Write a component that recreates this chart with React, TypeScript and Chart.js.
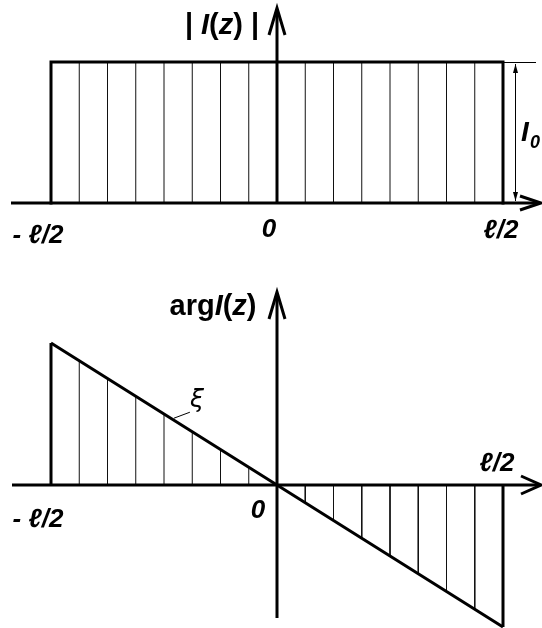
import { useEffect, useRef } from "react";
import { Chart, registerables } from "chart.js";

Chart.register(...registerables);

// z along the antenna, in sixteenths of ℓ (from -ℓ/2 to +ℓ/2)
const zPositions = [-8, -7, -6, -5, -4, -3, -2, -1, 0, 1, 2, 3, 4, 5, 6, 7, 8];
// |I(z)| in units of I0 (uniform amplitude)
const magnitude = [1, 1, 1, 1, 1, 1, 1, 1, 1, 1, 1, 1, 1, 1, 1, 1, 1];
// arg I(z), linear phase (arbitrary units)
const phase = [8, 7, 6, 5, 4, 3, 2, 1, 0, -1, -2, -3, -4, -5, -6, -7, -8];
// tick labels at -ℓ/2, 0, ℓ/2
const xTickLabels = ["- ℓ/2", "0", "ℓ/2"];
const magnitudeLabel = "I";
const magnitudeSub = "0";
const phaseCurveLabel = "ξ";

const FONT = '"Liberation Sans", Arial, sans-serif';

type Part = { t: string; italic?: boolean; size?: number; dy?: number };

function drawRich(ctx: CanvasRenderingContext2D, parts: Part[], cx: number, baseline: number, size: number) {
  const fontFor = (p: Part) => `${p.italic ? "italic " : ""}bold ${p.size ?? size}px ${FONT}`;
  let w = 0;
  for (const p of parts) {
    ctx.font = fontFor(p);
    w += ctx.measureText(p.t).width;
  }
  let x = cx - w / 2;
  ctx.textAlign = "left";
  ctx.textBaseline = "alphabetic";
  for (const p of parts) {
    ctx.font = fontFor(p);
    ctx.fillText(p.t, x, baseline + (p.dy ?? 0));
    x += ctx.measureText(p.t).width;
  }
}

function seg(ctx: CanvasRenderingContext2D, x1: number, y1: number, x2: number, y2: number) {
  ctx.beginPath();
  ctx.moveTo(x1, y1);
  ctx.lineTo(x2, y2);
  ctx.stroke();
}

function arrowRight(ctx: CanvasRenderingContext2D, tipX: number, y: number, len: number, half: number) {
  ctx.beginPath();
  ctx.moveTo(tipX - len, y - half);
  ctx.lineTo(tipX, y);
  ctx.lineTo(tipX - len, y + half);
  ctx.stroke();
}

function arrowUp(ctx: CanvasRenderingContext2D, x: number, tipY: number, len: number, half: number) {
  ctx.beginPath();
  ctx.moveTo(x - half, tipY + len);
  ctx.lineTo(x, tipY);
  ctx.lineTo(x + half, tipY + len);
  ctx.stroke();
}

function smallHead(ctx: CanvasRenderingContext2D, x: number, tipY: number, dir: number) {
  ctx.beginPath();
  ctx.moveTo(x, tipY);
  ctx.lineTo(x - 2.5, tipY + dir * 9);
  ctx.lineTo(x + 2.5, tipY + dir * 9);
  ctx.closePath();
  ctx.fill();
}

const hatchOf = (values: number[]) => {
  const pts: { x: number; y: number | null }[] = [];
  zPositions.forEach((x, i) => {
    if (i === 0 || i === zPositions.length - 1 || x === 0) return;
    pts.push({ x, y: 0 }, { x, y: values[i] }, { x, y: null });
  });
  return pts;
};

const topPlugin = {
  id: "topDiagram",
  afterDatasetsDraw(chart: any) {
    const ctx: CanvasRenderingContext2D = chart.ctx;
    const xs = chart.scales.x;
    const ys = chart.scales.y;
    const x0 = xs.getPixelForValue(0);
    const y0 = ys.getPixelForValue(0);
    const yTop = ys.getPixelForValue(1);
    const xR = xs.getPixelForValue(zPositions[zPositions.length - 1]);
    const xL = xs.getPixelForValue(zPositions[0]);
    ctx.save();
    ctx.strokeStyle = "#000";
    ctx.fillStyle = "#000";
    ctx.lineJoin = "miter";
    ctx.lineWidth = 3;
    // horizontal axis
    seg(ctx, 11, y0, 539, y0);
    arrowRight(ctx, 541, y0, 21, 7);
    // vertical axis
    seg(ctx, x0, y0, x0, 10);
    arrowUp(ctx, x0, 8, 27, 8);
    // dimension line for I0
    ctx.lineWidth = 1;
    seg(ctx, xR, yTop + 0.5, 536, yTop + 0.5);
    const xd = xR + 12.5;
    seg(ctx, xd, yTop + 2, xd, y0 - 2);
    smallHead(ctx, xd, yTop + 2, 1);
    smallHead(ctx, xd, y0 - 2, -1);
    // texts
    drawRich(
      ctx,
      [{ t: "| " }, { t: "I", italic: true }, { t: "(" }, { t: "z", italic: true }, { t: ")" }, { t: " |" }],
      x0 - 55,
      34,
      29
    );
    ctx.font = `italic bold 28px ${FONT}`;
    ctx.textAlign = "left";
    ctx.textBaseline = "alphabetic";
    ctx.fillText(magnitudeLabel, xR + 18, 141);
    ctx.font = `italic bold 18px ${FONT}`;
    ctx.fillText(magnitudeSub, xR + 27, 148);
    drawRich(ctx, [{ t: xTickLabels[0], italic: true }], xL - 13, y0 + 40, 26);
    drawRich(ctx, [{ t: xTickLabels[1], italic: true }], x0 - 8, y0 + 34, 26);
    drawRich(ctx, [{ t: xTickLabels[2], italic: true }], xR - 2, y0 + 35, 26);
    ctx.restore();
  },
};

const bottomPlugin = {
  id: "bottomDiagram",
  afterDatasetsDraw(chart: any) {
    const ctx: CanvasRenderingContext2D = chart.ctx;
    const xs = chart.scales.x;
    const ys = chart.scales.y;
    const x0 = xs.getPixelForValue(0);
    const y0 = ys.getPixelForValue(0);
    const xR = xs.getPixelForValue(zPositions[zPositions.length - 1]);
    const xL = xs.getPixelForValue(zPositions[0]);
    ctx.save();
    ctx.strokeStyle = "#000";
    ctx.fillStyle = "#000";
    ctx.lineJoin = "miter";
    ctx.lineWidth = 3;
    seg(ctx, 12, y0, 539, y0);
    arrowRight(ctx, 541, y0, 20, 9);
    seg(ctx, x0, 358, x0, 34);
    arrowUp(ctx, x0, 32, 27, 8);
    // label ξ with leader
    const zx = -3.65;
    const lx = xs.getPixelForValue(zx);
    const ly = ys.getPixelForValue(-zx);
    ctx.lineWidth = 1;
    seg(ctx, lx, ly - 2, lx + 16, ly - 8);
    ctx.font = `italic 25px "DejaVu Sans", ${FONT}`;
    ctx.textAlign = "center";
    ctx.textBaseline = "alphabetic";
    ctx.fillText(phaseCurveLabel, lx + 23, ly - 13);
    drawRich(
      ctx,
      [{ t: "arg" }, { t: "I", italic: true }, { t: "(" }, { t: "z", italic: true }, { t: ")" }],
      x0 - 64,
      55,
      29
    );
    drawRich(ctx, [{ t: xTickLabels[0], italic: true }], xL - 13, y0 + 42, 26);
    drawRich(ctx, [{ t: xTickLabels[1], italic: true }], x0 - 19, y0 + 33, 26);
    drawRich(ctx, [{ t: xTickLabels[2], italic: true }], xR - 6, y0 - 14, 26);
    ctx.restore();
  },
};

const baseOptions = (padding: any, yMin: number, yMax: number) => ({
  responsive: false,
  animation: false as const,
  devicePixelRatio: 1,
  events: [] as any[],
  layout: { padding },
  scales: {
    x: { type: "linear" as const, min: zPositions[0], max: zPositions[zPositions.length - 1], display: false },
    y: { type: "linear" as const, min: yMin, max: yMax, display: false },
  },
  plugins: { legend: { display: false }, tooltip: { enabled: false } },
});

const thick = { borderColor: "#000", borderWidth: 3, pointRadius: 0, showLine: true, clip: false as const, borderJoinStyle: "miter" as const };
const thin = { borderColor: "#111", borderWidth: 1, pointRadius: 0, showLine: true, spanGaps: false, clip: false as const };

export default function App() {
  const topRef = useRef<HTMLCanvasElement>(null);
  const botRef = useRef<HTMLCanvasElement>(null);

  useEffect(() => {
    const last = zPositions.length - 1;
    const outline = [
      { x: zPositions[0], y: 0 },
      ...zPositions.map((x, i) => ({ x, y: magnitude[i] })),
      { x: zPositions[last], y: 0 },
    ];
    const top = new Chart(topRef.current!, {
      type: "scatter",
      data: {
        datasets: [
          { ...thick, data: outline, borderCapStyle: "square" as const },
          { ...thin, data: hatchOf(magnitude) },
        ],
      },
      options: baseOptions({ left: 51, right: 39, top: 62, bottom: 57 }, 0, 1) as any,
      plugins: [topPlugin],
    });

    const diagonal = zPositions.map((x, i) => ({ x, y: phase[i] }));
    const edges = [
      { x: zPositions[0], y: 0 },
      { x: zPositions[0], y: phase[0] },
      { x: zPositions[0], y: null },
      { x: zPositions[last], y: 0 },
      { x: zPositions[last], y: phase[last] },
    ];
    const bottom = new Chart(botRef.current!, {
      type: "scatter",
      data: {
        datasets: [
          { ...thick, data: diagonal },
          { ...thick, data: edges, spanGaps: false },
          { ...thin, data: hatchOf(phase) },
        ],
      },
      options: baseOptions({ left: 51, right: 39, top: 83, bottom: 1 }, -8, 8) as any,
      plugins: [bottomPlugin],
    });
    return () => {
      top.destroy();
      bottom.destroy();
    };
  }, []);

  return (
    <div style={{ position: "absolute", left: 0, top: 0, width: 542, height: 628, background: "#fff" }}>
      <canvas ref={topRef} width={542} height={260} style={{ position: "absolute", left: 0, top: 0 }} />
      <canvas ref={botRef} width={542} height={368} style={{ position: "absolute", left: 0, top: 260 }} />
    </div>
  );
}
